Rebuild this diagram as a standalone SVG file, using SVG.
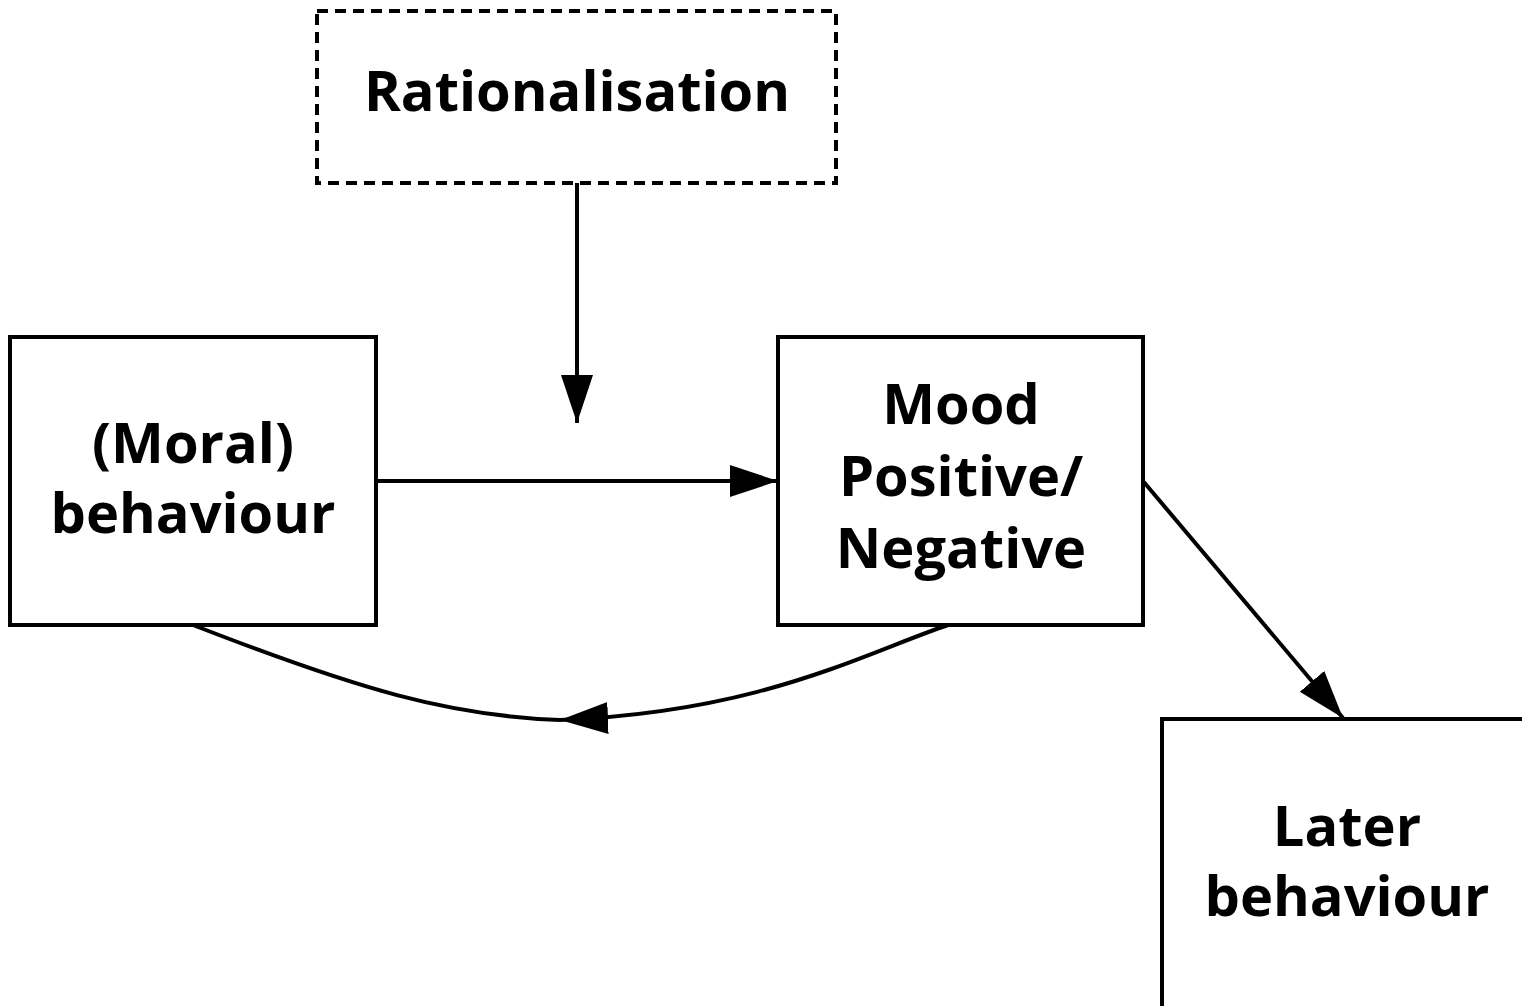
<svg xmlns="http://www.w3.org/2000/svg" width="1522" height="1006" viewBox="0 0 1522 1006">
<style>
.box{fill:#fff;stroke:#000;stroke-width:4}
.dash{fill:#fff;stroke:#000;stroke-width:4;stroke-dasharray:11 7}
.lbl{font-family:"Open Sans","Noto Sans",sans-serif;font-weight:bold;font-size:56px;text-anchor:middle;fill:#000}
.ln{fill:none;stroke:#000;stroke-width:4}
</style>
<defs>
<marker id="ah" markerUnits="userSpaceOnUse" markerWidth="50" markerHeight="34" refX="48" refY="16" orient="auto">
<path d="M0,0 L48,16 L0,32 Z" fill="#000"/>
</marker>
</defs>
<rect width="1522" height="1006" fill="#fff"/>
<g id="rationalisation">
<rect class="dash" x="317" y="11" width="519" height="172"/>
<text class="lbl" x="577" y="111">Rationalisation</text>
</g>
<g id="moral">
<rect class="box" x="10" y="337" width="366" height="288"/>
<text class="lbl" x="193" y="463">(Moral)</text>
<text class="lbl" x="193" y="533">behaviour</text>
</g>
<g id="mood">
<rect class="box" x="778" y="337" width="365" height="288"/>
<text class="lbl" x="961" y="424">Mood</text>
<text class="lbl" x="961" y="496">Positive/</text>
<text class="lbl" x="961" y="568">Negative</text>
</g>
<g id="later">
<rect class="box" x="1162" y="719" width="400" height="320"/>
<text class="lbl" x="1347" y="846">Later</text>
<text class="lbl" x="1347" y="916">behaviour</text>
</g>
<g id="connectors">
<line class="ln" x1="577" y1="183" x2="577" y2="423" marker-end="url(#ah)"/>
<line class="ln" x1="376" y1="481" x2="778" y2="481" marker-end="url(#ah)"/>
<line class="ln" x1="1143" y1="481" x2="1343" y2="718" marker-end="url(#ah)"/>
<path class="ln" d="M948,625 C860,655 760,712 560,720" marker-end="url(#ah)"/>
<path class="ln" d="M560,720 C450,716 360,690 193,625"/>
</g>
</svg>
